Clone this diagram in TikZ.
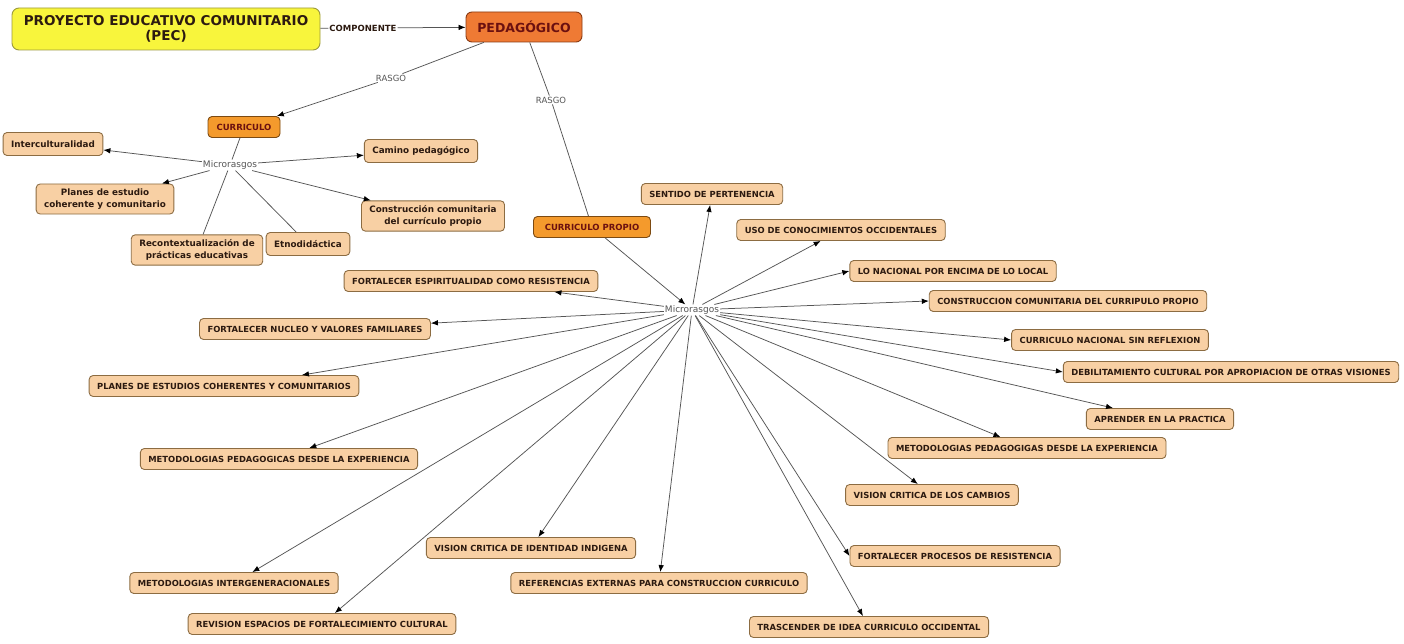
\documentclass[tikz,border=0pt]{standalone}
\usepackage{fontspec}
\setmainfont{DejaVu Sans}
\usetikzlibrary{arrows.meta}

\definecolor{pecfill}{HTML}{F8F53C}
\definecolor{pecborder}{HTML}{9C9A3C}
\definecolor{pedfill}{HTML}{EF7A34}
\definecolor{pedborder}{HTML}{8A3A12}
\definecolor{pedtext}{HTML}{6B1010}
\definecolor{currfill}{HTML}{F49A2C}
\definecolor{currborder}{HTML}{7C4A12}
\definecolor{leaffill}{HTML}{F8D0A4}
\definecolor{leafborder}{HTML}{8C6C42}
\definecolor{leaftext}{HTML}{2C1A10}
\definecolor{linkgray}{HTML}{555555}

\tikzset{
  concepto/.style={rounded corners=4pt, line width=0.9pt, inner xsep=8pt, inner ysep=3pt},
  pecbox/.style={concepto, fill=pecfill, draw=pecborder, text=leaftext, align=center,
    font=\bfseries\fontsize{13.5}{15}\selectfont, minimum width=308pt, minimum height=42pt, rounded corners=7pt},
  pedbox/.style={concepto, fill=pedfill, draw=pedborder, text=pedtext,
    font=\bfseries\fontsize{12.5}{14}\selectfont, minimum width=116pt, minimum height=30pt, rounded corners=6pt},
  currbox/.style={concepto, fill=currfill, draw=currborder, text=pedtext,
    font=\bfseries\fontsize{8.5}{10}\selectfont, minimum height=21pt},
  hoja/.style={concepto, fill=leaffill, draw=leafborder, text=leaftext,
    font=\bfseries\fontsize{8.4}{10}\selectfont, minimum height=21pt, align=center},
  hojamix/.style={hoja, font=\bfseries\fontsize{8.8}{11.5}\selectfont, inner ysep=5pt, minimum height=23pt},
  enlace/.style={fill=white, text=linkgray, inner sep=1pt, font=\fontsize{8.5}{10}\selectfont},
  micro/.style={text=linkgray, inner sep=1pt, font=\fontsize{9}{10}\selectfont},
  flecha/.style={draw=linkgray, line width=0.75pt, -{Latex[length=7pt,width=5.5pt,color=black]}},
  linea/.style={draw=linkgray, line width=0.75pt}
}

\begin{document}
\begin{tikzpicture}[x=1pt, y=-1pt]
	\useasboundingbox[fill=white] (0,0) rectangle (1404,644);

	% Conceptos principales
	\node[pecbox] (pec) at (166,29) {PROYECTO EDUCATIVO COMUNITARIO\\(PEC)};
	\node[pedbox] (ped) at (524,27) {PEDAGÓGICO};
	\node[currbox, minimum width=72pt] (curr) at (244,127) {CURRICULO};
	\node[currbox, minimum width=117pt] (currp) at (592,227) {CURRICULO PROPIO};

	% Frases de enlace
	\node[enlace, text=leaftext, font=\bfseries\fontsize{8.5}{10}\selectfont] (comp) at (363,28) {COMPONENTE};
	\node[enlace] (rasgoA) at (391,78) {RASGO};
	\node[enlace] (rasgoB) at (551,100) {RASGO};
	\node[micro] (microA) at (230,165) {Microrasgos};
	\node[micro] (microB) at (692,310) {Microrasgos};

	\draw[linea] (pec) -- (comp);
	\draw[flecha] (comp) -- (ped);
	\draw[linea] (ped) -- (rasgoA);
	\draw[flecha] (rasgoA) -- (curr);
	\draw[linea] (ped) -- (rasgoB);
	\draw[linea] (rasgoB) -- (currp);
	\draw[linea] (curr) -- (microA);
	\draw[flecha] (currp) -- (microB);

	% Microrasgos del curriculo
	\node[hojamix] (intercul) at (53,144) {Interculturalidad};
	\node[hojamix] (camino) at (421,151) {Camino pedagógico};
	\node[hojamix] (planes) at (105,199) {Planes de estudio\\coherente y comunitario};
	\node[hojamix] (construc) at (433,216) {Construcción comunitaria\\del currículo propio};
	\node[hojamix] (recontex) at (197,250) {Recontextualización de\\prácticas educativas};
	\node[hojamix] (etnodid) at (308,244) {Etnodidáctica};

	\foreach \hijo in {intercul, camino, planes, construc}
		\draw[flecha] (microA) -- (\hijo);
	\draw[linea] (microA) -- (recontex);
	\draw[linea] (microA) -- (etnodid);

	% Microrasgos del curriculo propio
	\node[hoja] (sentido) at (712,194) {SENTIDO DE PERTENENCIA};
	\node[hoja] (usocon) at (841,230) {USO DE CONOCIMIENTOS OCCIDENTALES};
	\node[hoja] (nacional) at (953,271) {LO NACIONAL POR ENCIMA DE LO LOCAL};
	\node[hoja] (espirit) at (471,281) {FORTALECER ESPIRITUALIDAD COMO RESISTENCIA};
	\node[hoja] (constr) at (1068,301) {CONSTRUCCION COMUNITARIA DEL CURRIPULO PROPIO};
	\node[hoja] (nucleo) at (315,329) {FORTALECER NUCLEO Y VALORES FAMILIARES};
	\node[hoja] (curnac) at (1110,340) {CURRICULO NACIONAL SIN REFLEXION};
	\node[hoja] (debil) at (1231,372) {DEBILITAMIENTO CULTURAL POR APROPIACION DE OTRAS VISIONES};
	\node[hoja] (planesR) at (224,386) {PLANES DE ESTUDIOS COHERENTES Y COMUNITARIOS};
	\node[hoja] (aprender) at (1160,419) {APRENDER EN LA PRACTICA};
	\node[hoja] (metodI) at (279,459) {METODOLOGIAS PEDAGOGICAS DESDE LA EXPERIENCIA};
	\node[hoja] (metodD) at (1027,448) {METODOLOGIAS PEDAGOGIGAS DESDE LA EXPERIENCIA};
	\node[hoja] (visionc) at (932,495) {VISION CRITICA DE LOS CAMBIOS};
	\node[hoja] (visioni) at (531,548) {VISION CRITICA DE IDENTIDAD INDIGENA};
	\node[hoja] (procesos) at (955,556) {FORTALECER PROCESOS DE RESISTENCIA};
	\node[hoja] (interg) at (234,583) {METODOLOGIAS INTERGENERACIONALES};
	\node[hoja] (refext) at (659,583) {REFERENCIAS EXTERNAS PARA CONSTRUCCION CURRICULO};
	\node[hoja] (revision) at (322,624) {REVISION ESPACIOS DE FORTALECIMIENTO CULTURAL};
	\node[hoja] (trasc) at (869,627) {TRASCENDER DE IDEA CURRICULO OCCIDENTAL};

	\foreach \hijo in {sentido, usocon, espirit, nucleo, aprender, metodI, metodD,
		visionc, visioni, interg, refext, revision, trasc}
		\draw[flecha] (microB) -- (\hijo);
	% flechas que llegan por el lado
	\foreach \hijo in {nacional, constr, curnac, debil, procesos}
		\draw[flecha] (microB) -- (\hijo.west);
	\draw[flecha] (microB) -- (planesR.8);
\end{tikzpicture}
\end{document}
